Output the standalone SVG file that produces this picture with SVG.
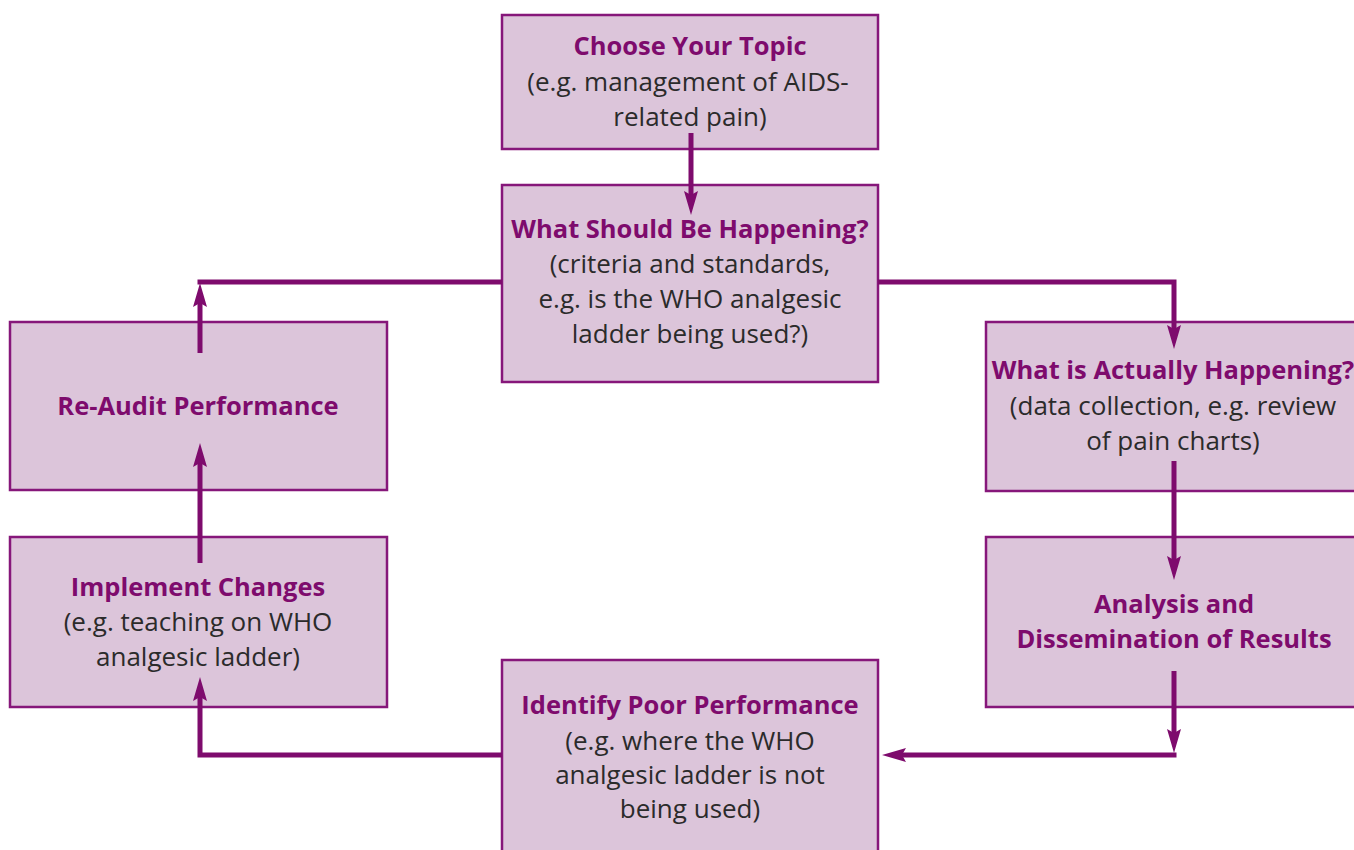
<svg xmlns="http://www.w3.org/2000/svg" width="1354" height="850" viewBox="0 0 1354 850">
<style>
.box{fill:#dcc5da;stroke:#86177a;stroke-width:2.5}
.t{font-family:"Open Sans","Noto Sans",sans-serif;font-weight:700;font-size:25.5px;fill:#7e0b6d;text-anchor:middle}
.b{font-family:"Open Sans","Noto Sans",sans-serif;font-size:26px;fill:#2b2b2b;text-anchor:middle}
.c{fill:none;stroke:#7e0b6d;stroke-width:5;stroke-linejoin:miter}
</style>
<defs>
<marker id="ah" viewBox="0 0 24 14" refX="10" refY="7" markerWidth="24" markerHeight="14" markerUnits="userSpaceOnUse" orient="auto">
<path d="M0,0 L24,7 L0,14 L4,7 z" fill="#7e0b6d"/>
</marker>
</defs>
<rect width="1354" height="850" fill="#ffffff"/>
<g id="n1"><rect class="box" x="502" y="15" width="376" height="134"/>
<text class="t" x="690" y="55">Choose Your Topic</text>
<text class="b" x="688" y="91">(e.g. management of AIDS-</text>
<text class="b" x="690" y="126">related pain)</text></g>
<g id="n2"><rect class="box" x="502" y="185" width="376" height="197"/>
<text class="t" x="690" y="238">What Should Be Happening?</text>
<text class="b" x="690" y="273">(criteria and standards,</text>
<text class="b" x="690" y="308">e.g. is the WHO analgesic</text>
<text class="b" x="690" y="343">ladder being used?)</text></g>
<g id="n3"><rect class="box" x="986" y="322" width="380" height="169"/>
<text class="t" x="1173" y="379">What is Actually Happening?</text>
<text class="b" x="1173" y="415">(data collection, e.g. review</text>
<text class="b" x="1173" y="450">of pain charts)</text></g>
<g id="n4"><rect class="box" x="986" y="537" width="380" height="170"/>
<text class="t" x="1174" y="613">Analysis and</text>
<text class="t" x="1174" y="648">Dissemination of Results</text></g>
<g id="n5"><rect class="box" x="502" y="660" width="376" height="200"/>
<text class="t" x="690" y="714">Identify Poor Performance</text>
<text class="b" x="690" y="750">(e.g. where the WHO</text>
<text class="b" x="690" y="784">analgesic ladder is not</text>
<text class="b" x="690" y="818">being used)</text></g>
<g id="n6"><rect class="box" x="10" y="537" width="377" height="170"/>
<text class="t" x="198" y="596">Implement Changes</text>
<text class="b" x="198" y="631">(e.g. teaching on WHO</text>
<text class="b" x="198" y="666">analgesic ladder)</text></g>
<g id="n7"><rect class="box" x="10" y="322" width="377" height="168"/>
<text class="t" x="198" y="415">Re-Audit Performance</text></g>
<g id="connectors">
<path class="c" d="M691,133 V201" marker-end="url(#ah)"/>
<path class="c" d="M502,282 H197.5"/>
<path class="c" d="M200,353 V297" marker-end="url(#ah)"/>
<path class="c" d="M878,282 H1174 V335" marker-end="url(#ah)"/>
<path class="c" d="M1174,461 V566" marker-end="url(#ah)"/>
<path class="c" d="M1174,671 V739" marker-end="url(#ah)"/>
<path class="c" d="M1176.5,755 H896" marker-end="url(#ah)"/>
<path class="c" d="M502,755 H200 V691" marker-end="url(#ah)"/>
<path class="c" d="M200,563 V457" marker-end="url(#ah)"/>
</g>
</svg>
